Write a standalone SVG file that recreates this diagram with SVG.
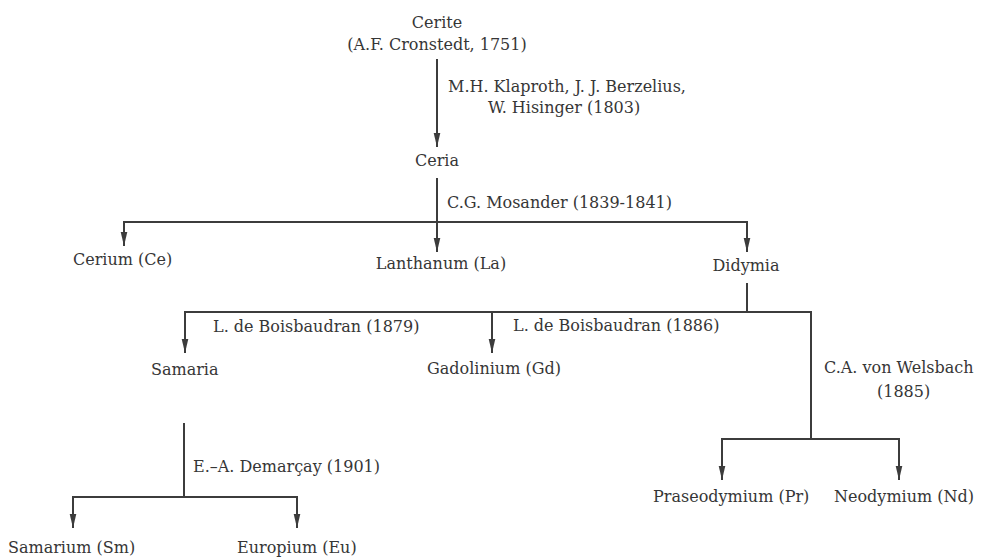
<svg xmlns="http://www.w3.org/2000/svg" width="983" height="557" viewBox="0 0 983 557">
<style>
text{font-family:'DejaVu Serif',serif;font-size:16px;fill:#363636}
.m{text-anchor:middle}
.c{fill:none;stroke:#3c3c3c;stroke-width:2}
</style>
<defs>
<marker id="ah" markerUnits="userSpaceOnUse" markerWidth="15" markerHeight="8" refX="14" refY="4" orient="auto" viewBox="0 0 15 8">
<path d="M0,0.7 L14,4 L0,7.3 Z" fill="#3c3c3c"/>
</marker>
</defs>
<rect width="983" height="557" fill="#fff"/>
<g id="connectors">
<path class="c" d="M437,59 V147" marker-end="url(#ah)"/>
<path class="c" d="M437,178 V252" marker-end="url(#ah)"/>
<path class="c" d="M124,222 H747"/>
<path class="c" d="M124,221 V246" marker-end="url(#ah)"/>
<path class="c" d="M747,221 V252" marker-end="url(#ah)"/>
<path class="c" d="M747,283 V312"/>
<path class="c" d="M185,312 H811"/>
<path class="c" d="M185,311 V353" marker-end="url(#ah)"/>
<path class="c" d="M492,312 V353" marker-end="url(#ah)"/>
<path class="c" d="M811,311 V439"/>
<path class="c" d="M722,439 H899"/>
<path class="c" d="M722,438 V480" marker-end="url(#ah)"/>
<path class="c" d="M899,438 V480" marker-end="url(#ah)"/>
<path class="c" d="M184,423 V497"/>
<path class="c" d="M73,497 H297"/>
<path class="c" d="M73,496 V528" marker-end="url(#ah)"/>
<path class="c" d="M297,496 V528" marker-end="url(#ah)"/>
</g>
<g id="labels">
<text x="448" y="92">M.H. Klaproth, J. J. Berzelius,</text>
<text x="488" y="113">W. Hisinger (1803)</text>
<text x="447" y="208">C.G. Mosander (1839-1841)</text>
<text x="213" y="332">L. de Boisbaudran (1879)</text>
<text x="513" y="331">L. de Boisbaudran (1886)</text>
<text x="824" y="373">C.A. von Welsbach</text>
<text x="877" y="397">(1885)</text>
<text x="193" y="472">E.–A. Demarçay (1901)</text>
</g>
<g id="n-cerite"><text class="m" x="437" y="28">Cerite</text><text class="m" x="437" y="50">(A.F. Cronstedt, 1751)</text></g>
<g id="n-ceria"><text class="m" x="437" y="166">Ceria</text></g>
<g id="n-cerium"><text x="73" y="265">Cerium (Ce)</text></g>
<g id="n-lanthanum"><text class="m" x="441" y="269">Lanthanum (La)</text></g>
<g id="n-didymia"><text class="m" x="746" y="271">Didymia</text></g>
<g id="n-samaria"><text x="151" y="375">Samaria</text></g>
<g id="n-gadolinium"><text x="427" y="374">Gadolinium (Gd)</text></g>
<g id="n-praseodymium"><text x="653" y="502">Praseodymium (Pr)</text></g>
<g id="n-neodymium"><text x="834" y="502">Neodymium (Nd)</text></g>
<g id="n-samarium"><text x="8" y="553">Samarium (Sm)</text></g>
<g id="n-europium"><text x="237" y="553">Europium (Eu)</text></g>
</svg>
